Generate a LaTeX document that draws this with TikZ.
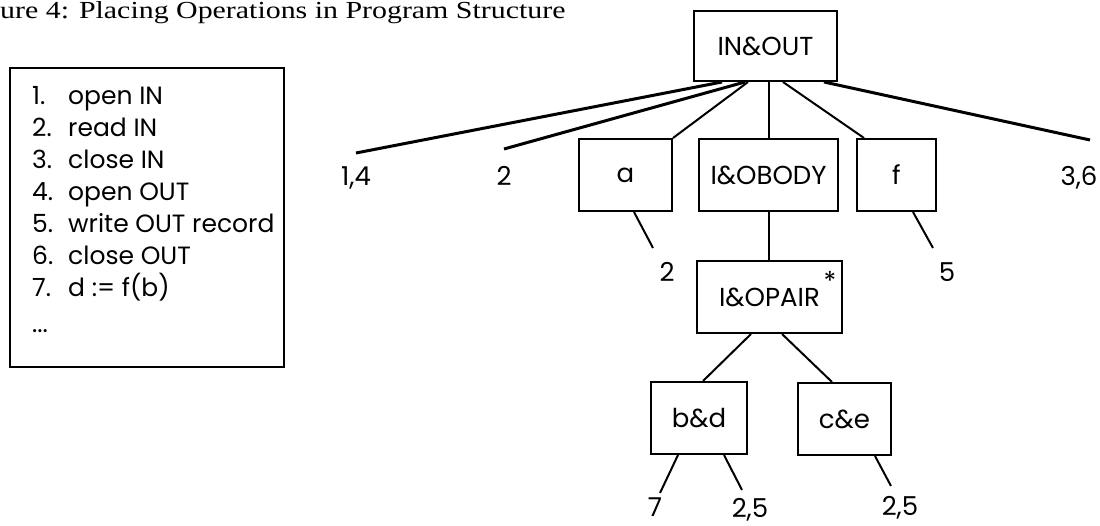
\documentclass[tikz,border=0pt]{standalone}
\usepackage{fontspec}
\setmainfont{Poppins}
\newfontfamily\titlefont{Liberation Serif}
\usetikzlibrary{calc}
\begin{document}
\begin{tikzpicture}[x=1pt,y=-1pt,
  box/.style={draw, line width=2pt, inner sep=0pt, font=\fontsize{26}{30}\selectfont},
  lbl/.style={inner sep=0pt, font=\fontsize{26}{30}\selectfont},
  listtxt/.style={inner sep=0pt, anchor=base west, font=\fontsize{25}{30}\selectfont},
  conn/.style={line width=2pt},
  heavyconn/.style={line width=3pt},
]
\useasboundingbox (0,0) rectangle (1100,526);

% title
\node[anchor=base west, inner sep=0pt, font=\titlefont\fontsize{24.5}{28}\selectfont] (title) at (0,19)
  {\scalebox{1.22}[1]{ure 4: Placing Operations in Program Structure}};

% list box
\node[draw, line width=2pt, minimum width=274pt, minimum height=299pt, inner sep=0pt] (listbox) at (147,217.5) {};
\foreach \i/\t in {1/open IN, 2/read IN, 3/close IN, 4/open OUT, 5/write OUT record, 6/close OUT, 7/{d := f(b)}}{
  \node[listtxt] (num\i) at (32,{105+32*(\i-1)}) {\i.};
  \node[listtxt] (txt\i) at (68,{105+32*(\i-1)}) {\t};
}
\node[listtxt] (dots) at (32,333) {...};

% tree boxes
\node[box, minimum width=143pt, minimum height=70pt] (inout) at (765.5,46) {IN\&OUT};
\node[box, minimum width=93pt, minimum height=72pt] (a) at (625.5,175) {a};
\node[box, minimum width=139pt, minimum height=72pt] (iobody) at (768.5,175) {I\&OBODY};
\node[box, minimum width=79pt, minimum height=72pt] (f) at (896.5,175) {f};
\node[box, minimum width=145pt, minimum height=72pt] (iopair) at (769.5,297) {I\&OPAIR};
\node[lbl] (star) at (830,281) {*};
\node[box, minimum width=96pt, minimum height=72pt] (bd) at (699,418) {b\&d};
\node[box, minimum width=93pt, minimum height=72pt] (ce) at (844.5,419) {c\&e};

% labels
\node[lbl, anchor=base] (l14) at (356,186) {1,4};
\node[lbl, anchor=base] (l2a) at (504,186) {2};
\node[lbl, anchor=base] (l36) at (1079,186) {3,6};
\node[lbl, anchor=base] (l2b) at (667,282) {2};
\node[lbl, anchor=base] (l5) at (947,282) {5};
\node[lbl, anchor=base] (l7) at (655,516) {7};
\node[lbl, anchor=base] (l25a) at (750,517) {2,5};
\node[lbl, anchor=base] (l25b) at (900,515) {2,5};

% free ends of connectors
\coordinate (e14) at (356,153);
\coordinate (e2a) at (504,149);
\coordinate (e36) at (1090,140);
\coordinate (e2b) at (653,248);
\coordinate (e5) at (933,248);
\coordinate (e7) at (660,493);
\coordinate (e25a) at (742,490);
\coordinate (e25b) at (891,486);

% connectors
\draw[heavyconn] ($(inout.south west)+(29,0)$) -- (e14);
\draw[heavyconn] ($(inout.south west)+(52,0)$) -- (e2a);
\draw[conn] ($(inout.south west)+(55,0)$) -- (a.north east);
\draw[conn] (iobody.north) -- (iobody.north |- inout.south);
\draw[conn] ($(inout.south west)+(90,0)$) -- ($(f.north west)+(8,0)$);
\draw[heavyconn] ($(inout.south west)+(131,0)$) -- (e36);
\draw[conn] ($(a.south west)+(56,0)$) -- (e2b);
\draw[conn] ($(f.south west)+(57,0)$) -- (e5);
\draw[conn] (iobody.south) -- (iobody.south |- iopair.north);
\draw[conn] ($(iopair.south west)+(55,0)$) -- ($(bd.north west)+(53,0)$);
\draw[conn] ($(iopair.south west)+(86,0)$) -- ($(ce.north west)+(35,0)$);
\draw[conn] ($(bd.south west)+(28,0)$) -- (e7);
\draw[conn] ($(bd.south west)+(74,0)$) -- (e25a);
\draw[conn] ($(ce.south west)+(78,0)$) -- (e25b);
\end{tikzpicture}
\end{document}
